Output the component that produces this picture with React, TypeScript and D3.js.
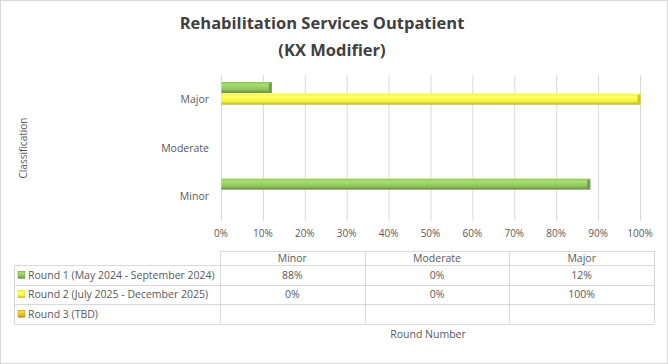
import React, { useEffect, useRef } from 'react';
import * as d3 from 'd3';

const categories = ['Minor', 'Moderate', 'Major'];
const seriesNames = [
  'Round 1 (May 2024 - September 2024)',
  'Round 2 (July 2025 - December 2025)',
  'Round 3 (TBD)',
];
const round1 = [88, 0, 12];
const round2 = [0, 0, 100];
const round3: (number | null)[] = [null, null, null];
const xTicks = [0, 10, 20, 30, 40, 50, 60, 70, 80, 90, 100];

const series = [round1, round2, round3];
const colors = [
  { light: '#a9dc78', mid: '#8cc45a', dark: '#5f8f35', cap: '#6f9e45' },
  { light: '#ffff70', mid: '#f4f43a', dark: '#b5b51c', cap: '#c9c928' },
  { light: '#ffd24a', mid: '#e8b820', dark: '#b38a10', cap: '#c09a18' },
];

const W = 668;
const H = 364;
const font = '"Open Sans", sans-serif';
const textColor = '#595959';
const lineColor = '#d9d9d9';

const App = () => {
  const svgRef = useRef<SVGSVGElement>(null);

  useEffect(() => {
    document.body.style.margin = '0';
    const svg = d3.select(svgRef.current);
    svg.selectAll('*').remove();

    const defs = svg.append('defs');
    colors.forEach((c, i) => {
      const g = defs
        .append('linearGradient')
        .attr('id', `grad${i}`)
        .attr('x1', 0)
        .attr('y1', 0)
        .attr('x2', 0)
        .attr('y2', 1);
      g.append('stop').attr('offset', '0%').attr('stop-color', c.mid);
      g.append('stop').attr('offset', '25%').attr('stop-color', c.light);
      g.append('stop').attr('offset', '70%').attr('stop-color', c.mid);
      g.append('stop').attr('offset', '100%').attr('stop-color', c.dark);
    });

    svg
      .append('rect')
      .attr('x', 0.5)
      .attr('y', 0.5)
      .attr('width', W - 1)
      .attr('height', H - 1)
      .attr('fill', '#fff')
      .attr('stroke', lineColor);

    // title
    const title = svg
      .append('text')
      .attr('text-anchor', 'middle')
      .attr('font-family', font)
      .attr('font-weight', 'bold')
      .attr('font-size', 16.5)
      .attr('fill', '#404040');
    title.append('tspan').attr('x', 322).attr('y', 29).text('Rehabilitation Services Outpatient');
    title.append('tspan').attr('x', 332).attr('y', 56).text('(KX Modifier)');

    const x = d3.scaleLinear().domain([0, 100]).range([221, 640]);
    const y = d3
      .scaleBand<string>()
      .domain(['Major', 'Moderate', 'Minor'])
      .range([75, 220]);
    const inner = d3
      .scaleBand<number>()
      .domain([0, 1, 2])
      .range([0, y.bandwidth()])
      .paddingOuter(0.6)
      .paddingInner(0.06);

    // gridlines
    svg
      .append('g')
      .selectAll('line')
      .data(xTicks)
      .join('line')
      .attr('x1', (d) => x(d) + 0.5)
      .attr('x2', (d) => x(d) + 0.5)
      .attr('y1', 75)
      .attr('y2', 221)
      .attr('stroke', lineColor);

    // tick labels
    svg
      .append('g')
      .selectAll('text')
      .data(xTicks)
      .join('text')
      .attr('x', (d) => x(d))
      .attr('y', 237)
      .attr('text-anchor', 'middle')
      .attr('font-family', font)
      .attr('font-size', 10)
      .attr('fill', textColor)
      .text((d) => `${d}%`);

    // category labels
    svg
      .append('g')
      .selectAll('text')
      .data(categories)
      .join('text')
      .attr('x', 209)
      .attr('y', (d) => (y(d) as number) + y.bandwidth() / 2 + 4)
      .attr('text-anchor', 'end')
      .attr('font-family', font)
      .attr('font-size', 10.5)
      .attr('fill', textColor)
      .text((d) => d);

    svg
      .append('text')
      .attr('transform', 'translate(27,148) rotate(-90)')
      .attr('text-anchor', 'middle')
      .attr('font-family', font)
      .attr('font-size', 10)
      .attr('fill', textColor)
      .text('Classification');

    // bars
    series.forEach((vals, si) => {
      const g = svg.append('g');
      vals.forEach((v, ci) => {
        if (v == null || v <= 0) return;
        const cat = categories[ci];
        const by = (y(cat) as number) + (inner(si) as number);
        const bh = inner.bandwidth();
        const bw = x(v) - x(0);
        g.append('rect')
          .attr('x', x(0) + 0.5)
          .attr('y', by)
          .attr('width', bw)
          .attr('height', bh)
          .attr('fill', `url(#grad${si})`);
        g.append('path')
          .attr(
            'd',
            `M${x(v) + 0.5 - 3},${by + 2} L${x(v) + 0.5},${by} L${x(v) + 0.5},${by + bh} L${x(v) + 0.5 - 3},${by + bh - 2} Z`
          )
          .attr('fill', colors[si].cap);
      });
    });

    // data table
    const cols = d3.scaleBand<string>().domain(categories).range([220, 654]);
    const rowY = [251, 265, 284.5, 304, 323.5];
    const tbl = svg.append('g').attr('stroke', lineColor).attr('fill', 'none');
    tbl.append('line').attr('x1', 220).attr('x2', 654).attr('y1', rowY[0] + 0.5).attr('y2', rowY[0] + 0.5);
    rowY.slice(1).forEach((ry) => {
      tbl.append('line').attr('x1', 14).attr('x2', 654).attr('y1', Math.round(ry) + 0.5).attr('y2', Math.round(ry) + 0.5);
    });
    tbl.append('line').attr('x1', 14.5).attr('x2', 14.5).attr('y1', rowY[1]).attr('y2', rowY[4]);
    [...categories.map((c) => cols(c) as number), 654].forEach((cx) => {
      tbl
        .append('line')
        .attr('x1', Math.round(cx) + 0.5)
        .attr('x2', Math.round(cx) + 0.5)
        .attr('y1', rowY[0])
        .attr('y2', rowY[4]);
    });

    const cellText = svg
      .append('g')
      .attr('font-family', font)
      .attr('font-size', 10.5)
      .attr('fill', textColor);
    categories.forEach((c) => {
      cellText
        .append('text')
        .attr('x', (cols(c) as number) + cols.bandwidth() / 2)
        .attr('y', (rowY[0] + rowY[1]) / 2 + 4)
        .attr('text-anchor', 'middle')
        .text(c);
    });
    series.forEach((vals, si) => {
      const cy = (rowY[si + 1] + rowY[si + 2]) / 2;
      cellText
        .append('rect')
        .attr('x', 18)
        .attr('y', cy - 3.5)
        .attr('width', 7)
        .attr('height', 7)
        .attr('fill', `url(#grad${si})`)
        .attr('stroke', colors[si].cap)
        .attr('stroke-width', 0.5);
      cellText
        .append('text')
        .attr('x', 28)
        .attr('y', cy + 4)
        .text(seriesNames[si]);
      vals.forEach((v, ci) => {
        if (v == null) return;
        const c = categories[ci];
        cellText
          .append('text')
          .attr('x', (cols(c) as number) + cols.bandwidth() / 2)
          .attr('y', cy + 4)
          .attr('text-anchor', 'middle')
          .text(`${v}%`);
      });
    });

    svg
      .append('text')
      .attr('x', 428)
      .attr('y', 338)
      .attr('text-anchor', 'middle')
      .attr('font-family', font)
      .attr('font-size', 10.5)
      .attr('fill', textColor)
      .text('Round Number');
  }, []);

  return <svg ref={svgRef} width={W} height={H} style={{ display: 'block' }} />;
};

export default App;
